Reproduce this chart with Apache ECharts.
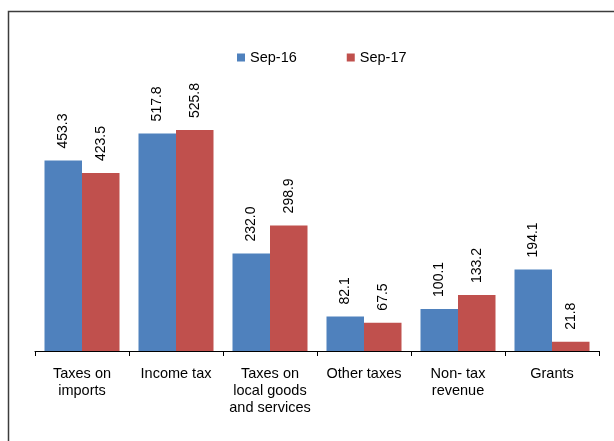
<!DOCTYPE html>
<html>
<head>
<meta charset="utf-8">
<script src="https://cdn.jsdelivr.net/npm/echarts@6/dist/echarts.min.js"></script>
<style>
  html, body { margin: 0; padding: 0; background: #fff; }
  #chart { width: 614px; height: 441px; }
</style>
</head>
<body>
<div id="chart"></div>
<script>
// Government revenue by source, September 2016 vs September 2017
const categories = [
  'Taxes on\nimports',
  'Income tax',
  'Taxes on\nlocal goods\nand services',
  'Other taxes',
  'Non- tax\nrevenue',
  'Grants'
];
const sep16 = [453.3, 517.8, 232.0, 82.1, 100.1, 194.1];
const sep17 = [423.5, 525.8, 298.9, 67.5, 133.2, 21.8];
const seriesNames = ['Sep-16', 'Sep-17'];

const FONT = 'Liberation Sans, Arial, sans-serif';

const valueLabel = {
  show: true,
  position: 'top',
  rotate: 90,
  align: 'left',
  verticalAlign: 'middle',
  distance: 12,
  fontFamily: FONT,
  fontSize: 14,
  color: '#000',
  formatter: p => p.value.toFixed(1)
};

const chart = echarts.init(document.getElementById('chart'), null, { renderer: 'canvas' });

chart.setOption({
  animation: false,
  backgroundColor: '#fff',
  graphic: [{
    type: 'rect',
    shape: { x: 8.5, y: 11.5, width: 700, height: 500 },
    style: { fill: 'none', stroke: '#3c3c3c', lineWidth: 1.5 },
    silent: true
  }],
  legend: {
    data: seriesNames,
    left: 232,
    top: 45,
    itemWidth: 8,
    itemHeight: 8,
    itemGap: 50,
    icon: 'rect',
    textStyle: { fontFamily: FONT, fontSize: 14.5, color: '#000' }
  },
  grid: { left: 35, right: 15, top: 40, bottom: 90, containLabel: false },
  xAxis: {
    type: 'category',
    data: categories,
    axisLine: { lineStyle: { color: '#000', width: 1 } },
    axisTick: { show: true, length: 5, lineStyle: { color: '#000' } },
    axisLabel: {
      interval: 0,
      margin: 14,
      fontFamily: FONT,
      fontSize: 14.5,
      lineHeight: 17,
      color: '#000',
      verticalAlign: 'top'
    }
  },
  yAxis: {
    type: 'value',
    min: 0,
    max: 740,
    show: false,
    splitLine: { show: false }
  },
  series: [
    {
      name: seriesNames[0],
      type: 'bar',
      data: sep16,
      barWidth: 37.5,
      barGap: '0%',
      itemStyle: { color: '#4F81BD' },
      label: valueLabel
    },
    {
      name: seriesNames[1],
      type: 'bar',
      data: sep17,
      barWidth: 37.5,
      barGap: '0%',
      itemStyle: { color: '#C0504D' },
      label: valueLabel
    }
  ]
});
</script>
</body>
</html>
